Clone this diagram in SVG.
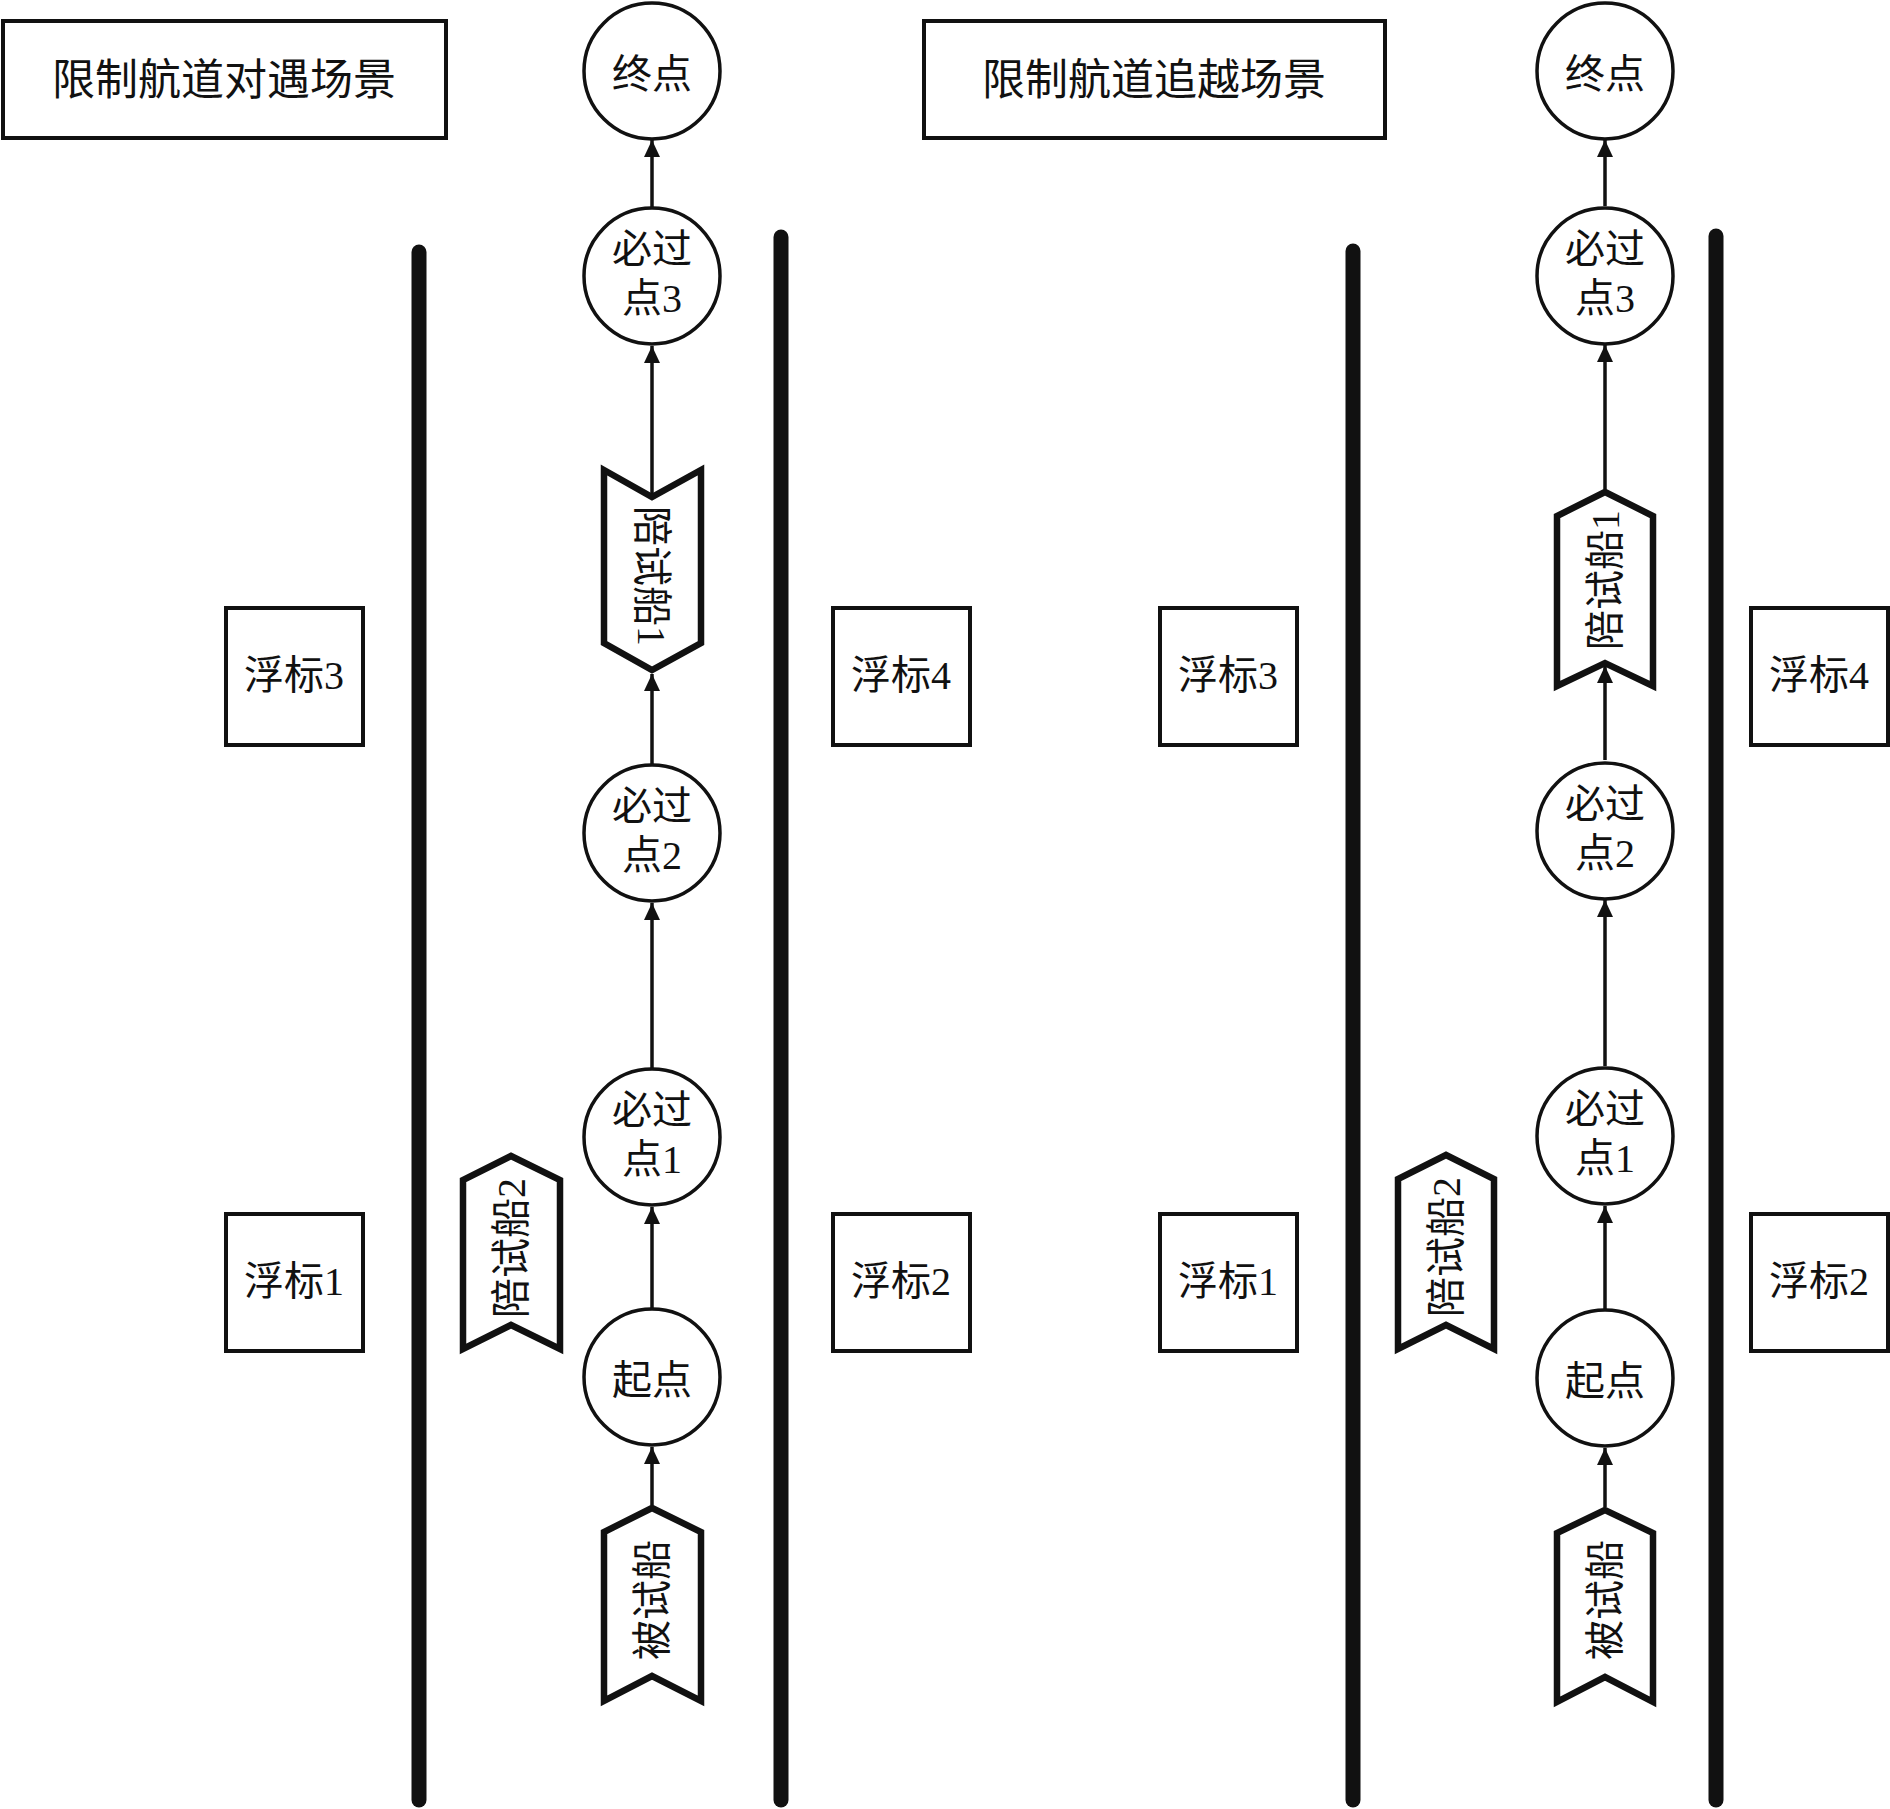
<svg xmlns="http://www.w3.org/2000/svg" width="1890" height="1809" viewBox="0 0 1890 1809">
<defs>
<style>
text{font-family:"Liberation Serif","Noto Sans CJK SC",serif;fill:#111;text-anchor:middle}
.t{font-size:43px}
.n{font-size:40px}
.box{fill:#fff;stroke:#111;stroke-width:4}
.c{fill:#fff;stroke:#111;stroke-width:3.5}
.ship{fill:#fff;stroke:#111;stroke-width:6.5;stroke-linejoin:miter}
.lane{stroke:#111;stroke-width:15;stroke-linecap:round}
.ar{stroke:#111;stroke-width:3.5;fill:none;marker-end:url(#ahu)}
</style>
<marker id="ahu" markerUnits="userSpaceOnUse" markerWidth="18" markerHeight="18" viewBox="-9 0 18 18" refX="0" refY="0" orient="0">
<path d="M0,0 L8,17 L-8,17 Z" fill="#111"/>
</marker>
</defs>
<rect width="1890" height="1809" fill="#fff"/>

<g id="lanes">
<line class="lane" x1="419" y1="252" x2="419" y2="1800"/>
<line class="lane" x1="781" y1="237" x2="781" y2="1800"/>
<line class="lane" x1="1353" y1="251" x2="1353" y2="1800"/>
<line class="lane" x1="1716" y1="236" x2="1716" y2="1800"/>
</g>

<g id="connectors">
<line class="ar" x1="652" y1="1505" x2="652" y2="1447"/>
<line class="ar" x1="652" y1="1308" x2="652" y2="1207"/>
<line class="ar" x1="652" y1="1068" x2="652" y2="903"/>
<line class="ar" x1="652" y1="764" x2="652" y2="674"/>
<line class="ar" x1="652" y1="497" x2="652" y2="346"/>
<line class="ar" x1="652" y1="207" x2="652" y2="140"/>
<line class="ar" x1="1605" y1="1507" x2="1605" y2="1448"/>
<line class="ar" x1="1605" y1="1309" x2="1605" y2="1206"/>
<line class="ar" x1="1605" y1="1066" x2="1605" y2="900"/>
<line class="ar" x1="1605" y1="760" x2="1605" y2="666"/>
<line class="ar" x1="1605" y1="489" x2="1605" y2="345"/>
<line class="ar" x1="1605" y1="206" x2="1605" y2="140"/>
</g>

<g id="title-left"><rect class="box" x="3" y="21" width="443" height="117"/><text class="t" x="224" y="95">限制航道对遇场景</text></g>
<g id="title-right"><rect class="box" x="924" y="21" width="461" height="117"/><text class="t" x="1154" y="95">限制航道追越场景</text></g>

<g id="L-end"><circle class="c" cx="652" cy="71" r="68"/><text class="n" x="652" y="88">终点</text></g>
<g id="L-wp3"><circle class="c" cx="652" cy="276" r="68"/><text class="n" x="652" y="263">必过</text><text class="n" x="652" y="312">点3</text></g>
<g id="L-wp2"><circle class="c" cx="652" cy="833" r="68"/><text class="n" x="652" y="820">必过</text><text class="n" x="652" y="869">点2</text></g>
<g id="L-wp1"><circle class="c" cx="652" cy="1137" r="68"/><text class="n" x="652" y="1124">必过</text><text class="n" x="652" y="1173">点1</text></g>
<g id="L-start"><circle class="c" cx="652" cy="1377" r="68"/><text class="n" x="652" y="1394">起点</text></g>

<g id="L-buoy3"><rect class="box" x="226" y="608" width="137" height="137"/><text class="n" x="294" y="689">浮标3</text></g>
<g id="L-buoy4"><rect class="box" x="833" y="608" width="137" height="137"/><text class="n" x="901" y="689">浮标4</text></g>
<g id="L-buoy1"><rect class="box" x="226" y="1214" width="137" height="137"/><text class="n" x="294" y="1295">浮标1</text></g>
<g id="L-buoy2"><rect class="box" x="833" y="1214" width="137" height="137"/><text class="n" x="901" y="1295">浮标2</text></g>

<g id="L-ship1"><polygon class="ship" points="604,470 652,497 701,470 701,643 652,670 604,643"/><text class="n" transform="translate(652,576) rotate(90)" x="0" y="14">陪试船1</text></g>
<g id="L-ship2"><polygon class="ship" points="511,1156 463,1180 463,1349 511,1325 560,1349 560,1180"/><text class="n" transform="translate(511,1248) rotate(-90)" x="0" y="14">陪试船2</text></g>
<g id="L-test"><polygon class="ship" points="652,1508 604,1532 604,1701 652,1676 701,1701 701,1532"/><text class="n" transform="translate(652,1600) rotate(-90)" x="0" y="14">被试船</text></g>

<g id="R-end"><circle class="c" cx="1605" cy="71" r="68"/><text class="n" x="1605" y="88">终点</text></g>
<g id="R-wp3"><circle class="c" cx="1605" cy="276" r="68"/><text class="n" x="1605" y="263">必过</text><text class="n" x="1605" y="312">点3</text></g>
<g id="R-wp2"><circle class="c" cx="1605" cy="831" r="68"/><text class="n" x="1605" y="818">必过</text><text class="n" x="1605" y="867">点2</text></g>
<g id="R-wp1"><circle class="c" cx="1605" cy="1136" r="68"/><text class="n" x="1605" y="1123">必过</text><text class="n" x="1605" y="1172">点1</text></g>
<g id="R-start"><circle class="c" cx="1605" cy="1378" r="68"/><text class="n" x="1605" y="1395">起点</text></g>

<g id="R-buoy3"><rect class="box" x="1160" y="608" width="137" height="137"/><text class="n" x="1228" y="689">浮标3</text></g>
<g id="R-buoy4"><rect class="box" x="1751" y="608" width="137" height="137"/><text class="n" x="1819" y="689">浮标4</text></g>
<g id="R-buoy1"><rect class="box" x="1160" y="1214" width="137" height="137"/><text class="n" x="1228" y="1295">浮标1</text></g>
<g id="R-buoy2"><rect class="box" x="1751" y="1214" width="137" height="137"/><text class="n" x="1819" y="1295">浮标2</text></g>

<g id="R-ship1"><polygon class="ship" points="1605,492 1557,516 1557,686 1605,663 1653,686 1653,516"/><text class="n" transform="translate(1605,580) rotate(-90)" x="0" y="14">陪试船1</text></g>
<g id="R-ship2"><polygon class="ship" points="1446,1155 1398,1179 1398,1349 1446,1325 1494,1349 1494,1179"/><text class="n" transform="translate(1446,1247) rotate(-90)" x="0" y="14">陪试船2</text></g>
<g id="R-test"><polygon class="ship" points="1605,1510 1557,1533 1557,1702 1605,1677 1653,1702 1653,1533"/><text class="n" transform="translate(1605,1600) rotate(-90)" x="0" y="14">被试船</text></g>
</svg>
